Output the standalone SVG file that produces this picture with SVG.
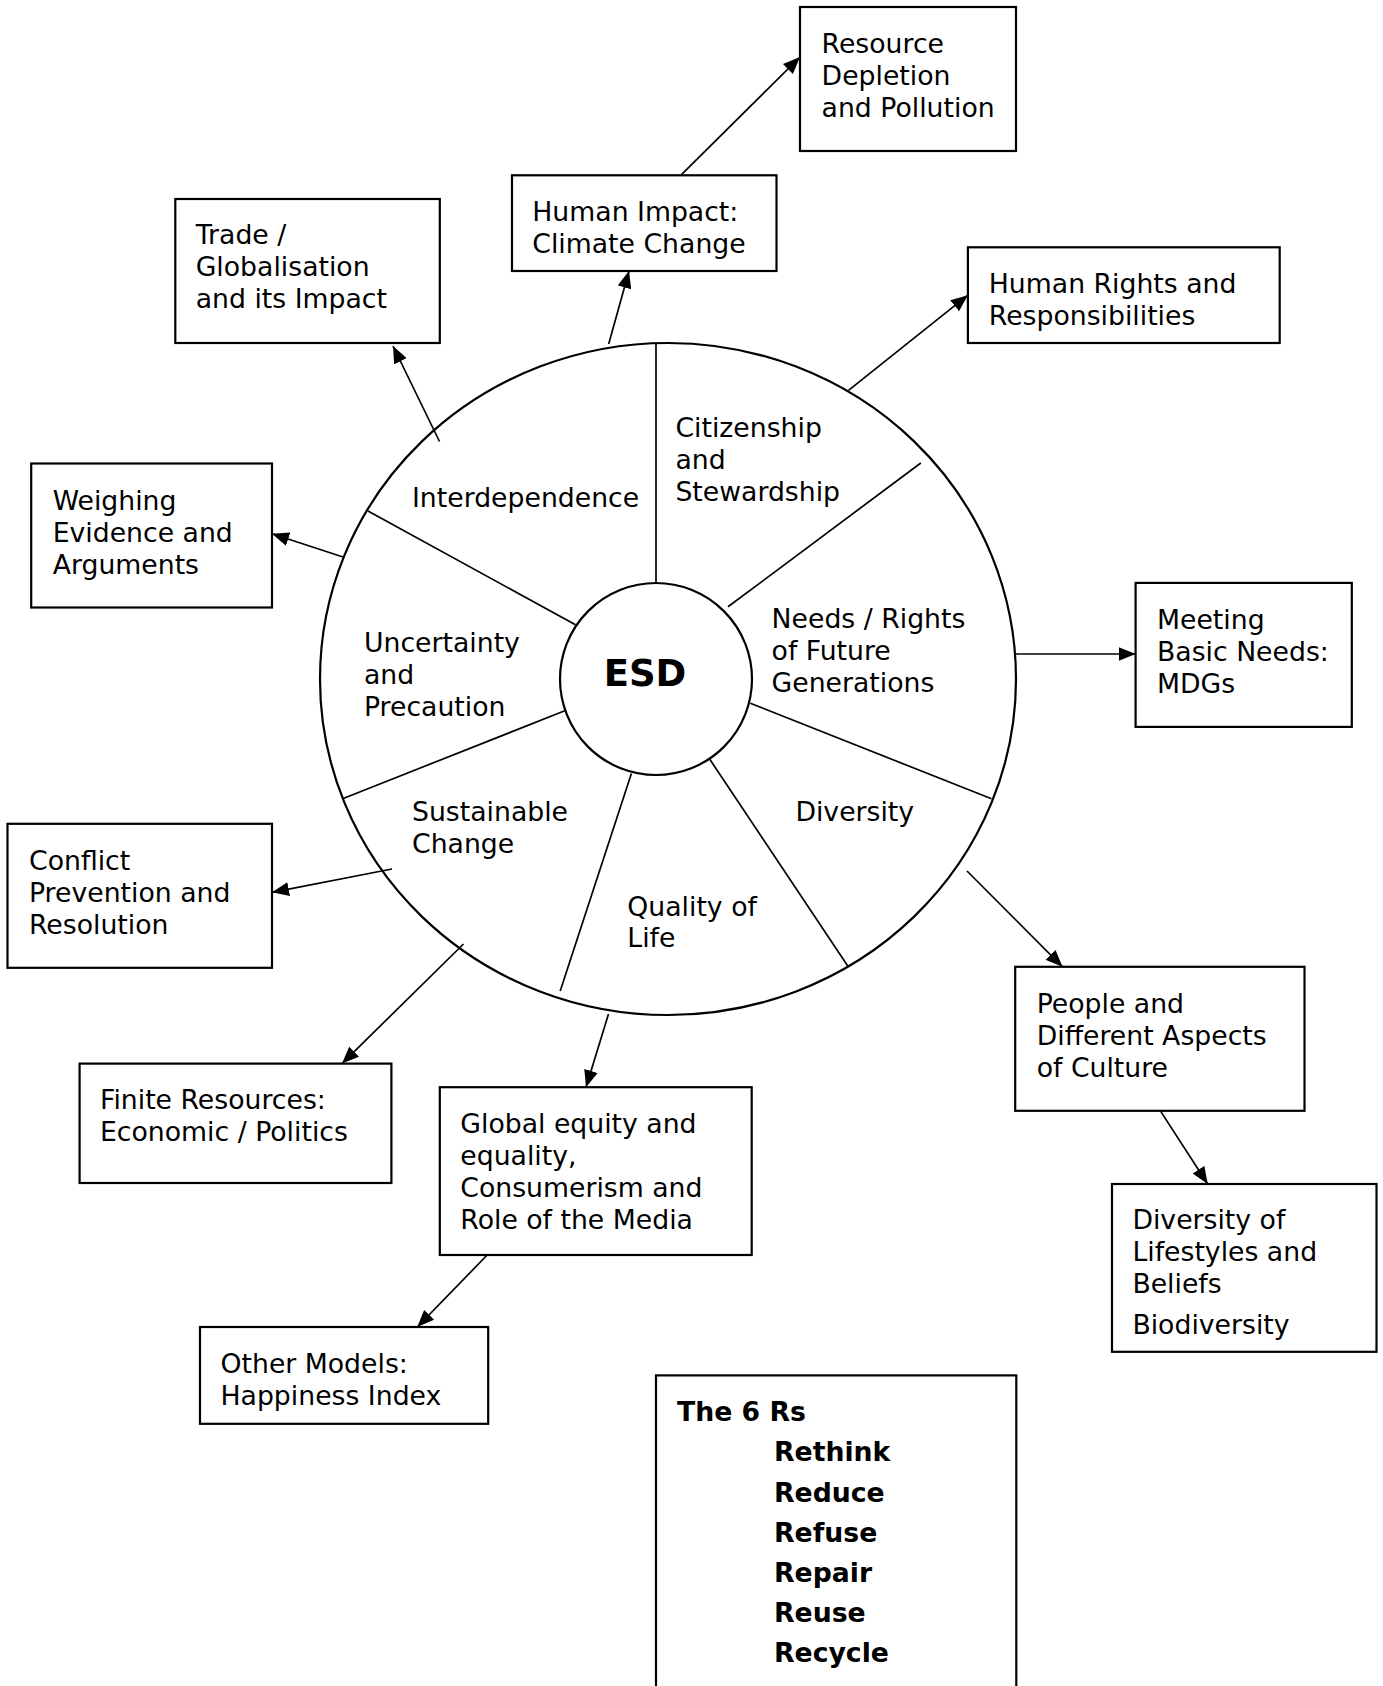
<svg xmlns="http://www.w3.org/2000/svg" width="1383" height="1686" viewBox="0 0 1383 1686">
<defs>
<style>
.box{fill:#fff;stroke:#000;stroke-width:2.2}
.t{font-family:"DejaVu Sans","Liberation Sans",sans-serif;font-size:26.7px;fill:#000}
.b{font-family:"DejaVu Sans","Liberation Sans",sans-serif;font-weight:bold;fill:#000}
.ln{stroke:#000;stroke-width:1.7;fill:none}
.arr{stroke:#000;stroke-width:1.7;fill:none;marker-end:url(#ah)}
</style>
<marker id="ah" markerUnits="userSpaceOnUse" markerWidth="18" markerHeight="14" refX="17" refY="7" orient="auto">
<path d="M0,0 L17,7 L0,14 z" fill="#000"/>
</marker>
</defs>
<rect width="1383" height="1686" fill="#fff"/>

<g id="connectors">
<line class="arr" x1="680.7" y1="175.3" x2="800" y2="57"/>
<line class="arr" x1="608.7" y1="344" x2="629" y2="271"/>
<line class="arr" x1="439.5" y1="441.5" x2="393" y2="346"/>
<line class="arr" x1="848.5" y1="390.4" x2="967.9" y2="295.2"/>
<line class="arr" x1="343" y1="557" x2="272" y2="533.8"/>
<line class="arr" x1="1016" y1="654" x2="1135.6" y2="654"/>
<line class="arr" x1="392" y1="869" x2="272" y2="892.3"/>
<line class="arr" x1="967" y1="871" x2="1062.5" y2="966.8"/>
<line class="arr" x1="463.5" y1="944" x2="342" y2="1063.6"/>
<line class="arr" x1="608.5" y1="1014" x2="586" y2="1087.2"/>
<line class="arr" x1="487.2" y1="1255" x2="417.3" y2="1327"/>
<line class="arr" x1="1160.4" y1="1110.9" x2="1207.7" y2="1184"/>
</g>

<g id="wheel">
<ellipse cx="668" cy="679" rx="348" ry="336" fill="none" stroke="#000" stroke-width="2.2"/>
<line class="ln" x1="656" y1="343" x2="656" y2="583"/>
<line class="ln" x1="728" y1="606.8" x2="920.8" y2="463"/>
<line class="ln" x1="368" y1="511" x2="575.5" y2="624.8"/>
<line class="ln" x1="343.2" y1="798.5" x2="564.8" y2="710.8"/>
<line class="ln" x1="750.3" y1="703.2" x2="991.5" y2="798.8"/>
<line class="ln" x1="709.8" y1="759.3" x2="847.6" y2="965.7"/>
<line class="ln" x1="631.4" y1="773.6" x2="560.2" y2="991"/>
<circle cx="656" cy="679" r="96" fill="#fff" stroke="#000" stroke-width="2.2"/>
</g>

<g id="esd"><text class="b" x="645" y="686" font-size="37" text-anchor="middle">ESD</text></g>
<g id="interdependence"><text class="t" x="412" y="507">Interdependence</text></g>
<g id="citizenship"><text class="t"><tspan x="675.4" y="436.5">Citizenship</tspan><tspan x="675.4" y="468.5">and</tspan><tspan x="675.4" y="500.5">Stewardship</tspan></text></g>
<g id="needs"><text class="t"><tspan x="771.6" y="628.3">Needs / Rights</tspan><tspan x="771.6" y="660.3">of Future</tspan><tspan x="771.6" y="692.3">Generations</tspan></text></g>
<g id="uncertainty"><text class="t"><tspan x="364" y="652.4">Uncertainty</tspan><tspan x="364" y="684.4">and</tspan><tspan x="364" y="716.4">Precaution</tspan></text></g>
<g id="sustainable"><text class="t"><tspan x="412" y="820.5">Sustainable</tspan><tspan x="412" y="852.5">Change</tspan></text></g>
<g id="diversity"><text class="t" x="795.4" y="820.5">Diversity</text></g>
<g id="quality"><text class="t"><tspan x="627.3" y="916">Quality of</tspan><tspan x="627.3" y="947">Life</tspan></text></g>

<g id="resource"><rect class="box" x="800" y="7" width="216" height="144"/><text class="t"><tspan x="821.6" y="53">Resource</tspan><tspan x="821.6" y="85">Depletion</tspan><tspan x="821.6" y="117">and Pollution</tspan></text></g>
<g id="human-impact"><rect class="box" x="512" y="175.3" width="264.5" height="95.7"/><text class="t"><tspan x="532.3" y="221">Human Impact:</tspan><tspan x="532.3" y="253">Climate Change</tspan></text></g>
<g id="trade"><rect class="box" x="175.3" y="199" width="264.5" height="144"/><text class="t"><tspan x="195.7" y="244">Trade /</tspan><tspan x="195.7" y="276">Globalisation</tspan><tspan x="195.7" y="308">and its Impact</tspan></text></g>
<g id="human-rights"><rect class="box" x="967.9" y="247.3" width="311.8" height="95.7"/><text class="t"><tspan x="988.8" y="293">Human Rights and</tspan><tspan x="988.8" y="325">Responsibilities</tspan></text></g>
<g id="weighing"><rect class="box" x="31.2" y="463.5" width="240.8" height="144"/><text class="t"><tspan x="52.7" y="510">Weighing</tspan><tspan x="52.7" y="542">Evidence and</tspan><tspan x="52.7" y="574">Arguments</tspan></text></g>
<g id="meeting"><rect class="box" x="1135.6" y="582.9" width="216.2" height="144"/><text class="t"><tspan x="1157" y="629">Meeting</tspan><tspan x="1157" y="661">Basic Needs:</tspan><tspan x="1157" y="693">MDGs</tspan></text></g>
<g id="conflict"><rect class="box" x="7.5" y="823.8" width="264.5" height="144"/><text class="t"><tspan x="29" y="870">Conflict</tspan><tspan x="29" y="902">Prevention and</tspan><tspan x="29" y="934">Resolution</tspan></text></g>
<g id="people"><rect class="box" x="1015.2" y="966.8" width="289.3" height="144"/><text class="t"><tspan x="1036.7" y="1013">People and</tspan><tspan x="1036.7" y="1045">Different Aspects</tspan><tspan x="1036.7" y="1077">of Culture</tspan></text></g>
<g id="finite"><rect class="box" x="79.6" y="1063.6" width="311.8" height="119.4"/><text class="t"><tspan x="100" y="1109">Finite Resources:</tspan><tspan x="100" y="1141">Economic / Politics</tspan></text></g>
<g id="global"><rect class="box" x="439.8" y="1087.2" width="311.9" height="167.8"/><text class="t"><tspan x="460.3" y="1133">Global equity and</tspan><tspan x="460.3" y="1165">equality,</tspan><tspan x="460.3" y="1197">Consumerism and</tspan><tspan x="460.3" y="1229">Role of the Media</tspan></text></g>
<g id="lifestyles"><rect class="box" x="1112" y="1184" width="264.5" height="167.8"/><text class="t"><tspan x="1132.4" y="1229">Diversity of</tspan><tspan x="1132.4" y="1261">Lifestyles and</tspan><tspan x="1132.4" y="1293">Beliefs</tspan><tspan x="1132.4" y="1334">Biodiversity</tspan></text></g>
<g id="other-models"><rect class="box" x="200" y="1327" width="288.2" height="96.8"/><text class="t"><tspan x="220.5" y="1373">Other Models:</tspan><tspan x="220.5" y="1405">Happiness Index</tspan></text></g>
<g id="six-rs"><rect class="box" x="656" y="1375.4" width="360.3" height="330"/><text class="b" font-size="26.7"><tspan x="677" y="1421">The 6 Rs</tspan><tspan x="774" y="1461">Rethink</tspan><tspan x="774" y="1501.5">Reduce</tspan><tspan x="774" y="1541.7">Refuse</tspan><tspan x="774" y="1581.8">Repair</tspan><tspan x="774" y="1622">Reuse</tspan><tspan x="774" y="1662">Recycle</tspan></text></g>
</svg>
